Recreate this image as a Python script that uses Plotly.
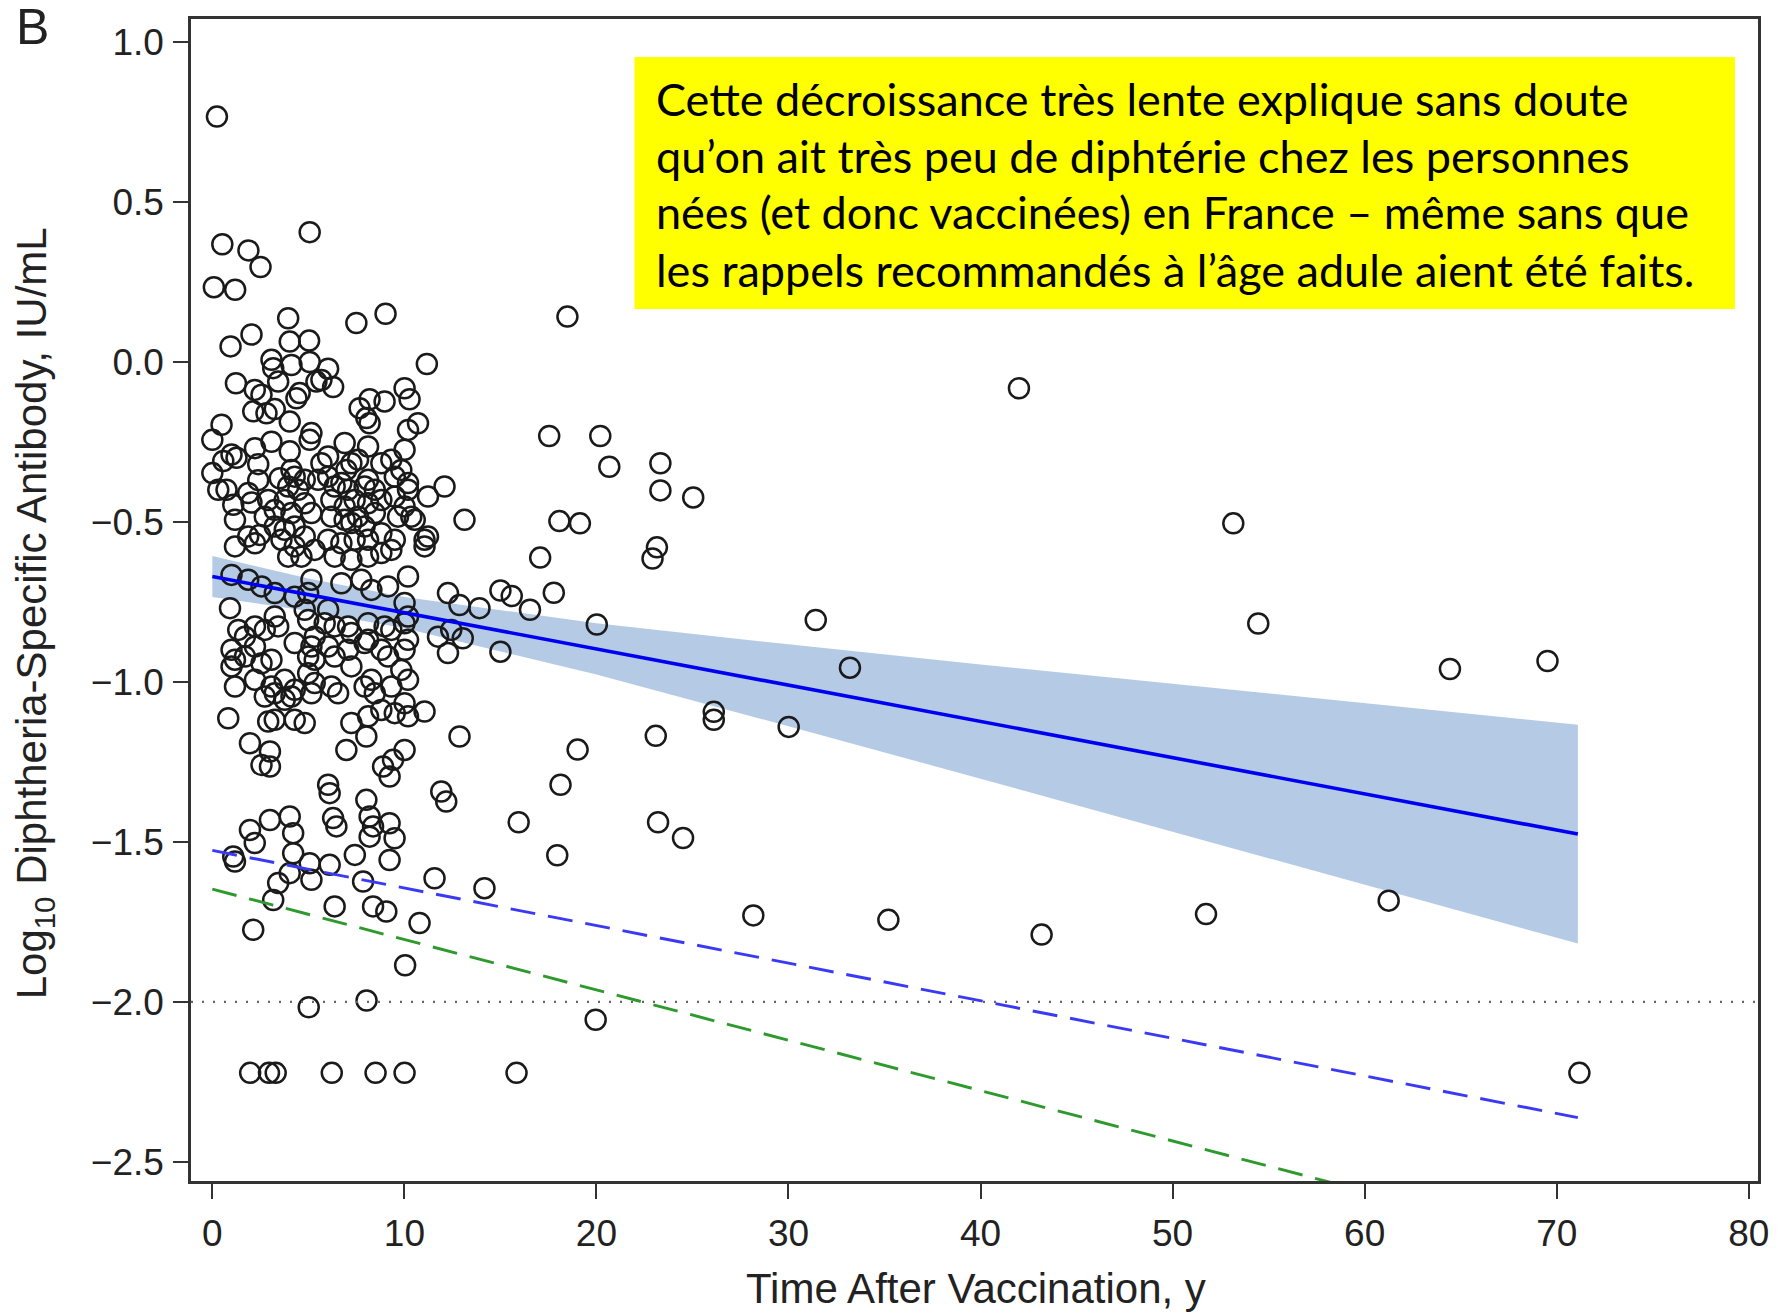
import plotly.graph_objects as go

# ---------------- data ----------------
# points above about -0.18
X_UPPER = [0.24, 5.07, 0.52, 1.88, 2.51, 0.08, 1.19, 3.95, 7.50, 9.02, 2.04, 0.95, 4.03, 5.04, 11.17, 3.08,
           4.12, 5.07, 6.03, 3.17, 6.29, 1.23, 2.21, 2.56, 3.43, 4.55, 4.38, 5.42, 5.68, 10.01, 10.27, 8.19,
           7.67, 8.02, 8.97, 2.13, 2.82, 3.25]
Y_UPPER = [0.766, 0.405, 0.367, 0.348, 0.296, 0.233, 0.225, 0.136, 0.121, 0.150, 0.085, 0.048, 0.063, 0.066,
           -0.007, 0.006, -0.010, -0.001, -0.022, -0.020, -0.079, -0.067, -0.088, -0.103, -0.062, -0.098,
           -0.114, -0.062, -0.057, -0.083, -0.117, -0.117, -0.145, -0.176, -0.124, -0.155, -0.161, -0.148]

# dense cluster, -0.18 to -0.62
X_MID_A = [0.48, 0.0, 1.0, 1.26, 0.57, 0.0, 0.31, 0.74, 1.09, 1.18, 1.18, 2.22, 2.48, 2.22, 3.08, 2.39,
           4.03, 4.03, 5.16, 5.07, 4.12, 3.51, 4.29, 4.81, 4.47, 3.95, 2.91, 3.25, 3.77, 4.12, 4.81, 5.16,
           4.29, 3.77, 3.25, 2.73, 3.60, 4.29, 4.81, 3.95, 4.64, 5.33, 5.68, 6.03, 5.51, 6.03, 6.37, 6.89,
           7.24, 6.98, 7.59, 8.11, 6.72, 7.07, 7.93, 8.11, 8.46, 6.20, 6.89, 7.41, 8.11, 8.80, 6.20, 6.89,
           7.24, 7.59, 7.93, 8.46, 6.03, 6.72, 7.41, 8.11, 8.80, 9.50, 6.37, 7.24, 8.11, 8.80, 9.32, 8.80,
           9.32, 9.50, 9.84, 10.01, 10.19, 10.71, 9.50, 10.19, 10.01, 10.19, 9.67, 10.36, 10.54, 11.23,
           12.09, 11.05, 11.05, 11.23, 1.87, 8.19, 13.13, 2.39, 1.87, 2.04]
Y_MID_A = [-0.197, -0.244, -0.290, -0.300, -0.310, -0.348, -0.400, -0.400, -0.447, -0.494, -0.577, -0.567,
           -0.541, -0.270, -0.250, -0.320, -0.187, -0.280, -0.223, -0.244, -0.338, -0.364, -0.359, -0.369,
           -0.400, -0.390, -0.432, -0.463, -0.432, -0.473, -0.442, -0.473, -0.515, -0.525, -0.515, -0.484,
           -0.556, -0.577, -0.546, -0.609, -0.609, -0.588, -0.317, -0.296, -0.369, -0.359, -0.390, -0.254,
           -0.317, -0.338, -0.306, -0.265, -0.379, -0.400, -0.390, -0.369, -0.400, -0.432, -0.452, -0.432,
           -0.442, -0.432, -0.484, -0.494, -0.504, -0.484, -0.515, -0.473, -0.556, -0.567, -0.556, -0.556,
           -0.536, -0.556, -0.609, -0.619, -0.609, -0.598, -0.588, -0.317, -0.306, -0.359, -0.338, -0.275,
           -0.213, -0.192, -0.421, -0.400, -0.452, -0.379, -0.484, -0.484, -0.494, -0.421, -0.390, -0.556,
           -0.577, -0.546, -0.546, -0.192, -0.494, -0.370, -0.410, -0.440]

# dense cluster, -0.62 to -1.15
X_MID_B = [1.0, 1.87, 2.56, 3.25, 4.29, 5.16, 4.99, 6.72, 7.76, 8.28, 9.15, 10.19, 10.01, 12.27, 12.44,
           12.27, 11.75, 0.92, 3.25, 3.43, 2.73, 1.35, 1.70, 2.22, 4.81, 4.99, 6.03, 5.85, 6.37, 5.33, 7.07,
           7.24, 8.11, 8.11, 8.97, 9.32, 10.01, 10.19, 4.29, 5.16, 4.99, 5.33, 1.0, 1.18, 1.0, 1.70, 2.22,
           2.56, 3.08, 6.03, 6.37, 7.07, 7.24, 7.93, 8.80, 9.15, 10.01, 10.19, 1.18, 2.22, 3.08, 3.77, 4.29,
           4.99, 5.33, 5.16, 6.20, 6.55, 7.93, 8.28, 8.46, 9.32, 9.84, 10.19, 10.01, 2.73, 3.25, 3.77, 4.12,
           0.83, 2.91, 3.25, 4.29, 4.81, 7.24, 8.11, 8.80, 9.50, 10.19, 11.05, 12.87, 13.91, 13.04]
Y_MID_B = [-0.666, -0.681, -0.702, -0.723, -0.734, -0.681, -0.723, -0.692, -0.681, -0.713, -0.702, -0.671,
           -0.754, -0.723, -0.838, -0.910, -0.859, -0.770, -0.796, -0.827, -0.838, -0.838, -0.859, -0.827,
           -0.775, -0.807, -0.775, -0.817, -0.827, -0.859, -0.827, -0.848, -0.817, -0.869, -0.827, -0.838,
           -0.817, -0.796, -0.879, -0.890, -0.921, -0.931, -0.900, -0.931, -0.952, -0.921, -0.890, -0.942,
           -0.931, -0.890, -0.921, -0.900, -0.952, -0.879, -0.900, -0.921, -0.900, -0.869, -1.015, -0.994,
           -1.015, -0.994, -1.025, -0.973, -1.004, -1.036, -1.015, -1.036, -1.015, -0.994, -1.036, -1.015,
           -0.963, -0.994, -1.067, -1.046, -1.036, -1.056, -1.046, -1.114, -1.124, -1.119, -1.119, -1.129,
           -1.129, -1.108, -1.088, -1.098, -1.108, -1.093, -0.760, -0.770, -0.864]

# lower part of the cluster and the floor values
X_LOWER = [1.96, 3.00, 2.56, 3.00, 6.98, 8.02, 10.01, 9.41, 8.89, 9.23, 12.87, 6.03, 6.11, 11.92, 12.18,
           6.29, 6.46, 8.02, 8.19, 8.37, 8.19, 9.23, 9.49, 1.96, 3.00, 4.03, 4.21, 2.21, 4.21, 1.09, 1.18,
           5.07, 6.11, 7.42, 9.23, 4.03, 3.43, 5.16, 7.85, 11.57, 14.17, 3.17, 6.37, 8.37, 9.06, 10.79,
           2.13, 10.04, 5.02, 8.03, 19.96, 1.97, 2.95, 3.30, 6.22, 8.50, 10.01, 15.84, 71.18]
Y_LOWER = [-1.192, -1.218, -1.260, -1.265, -1.213, -1.171, -1.213, -1.244, -1.265, -1.296, -1.171, -1.322,
           -1.348, -1.343, -1.374, -1.426, -1.452, -1.369, -1.421, -1.452, -1.484, -1.442, -1.489, -1.463,
           -1.432, -1.421, -1.473, -1.504, -1.536, -1.546, -1.562, -1.567, -1.572, -1.541, -1.557, -1.598,
           -1.629, -1.619, -1.624, -1.614, -1.645, -1.682, -1.702, -1.702, -1.718, -1.754, -1.775, -1.886,
           -2.017, -1.996, -2.056, -2.222, -2.222, -2.222, -2.222, -2.222, -2.222, -2.222, -2.222]

# sparse points after ~15 years
X_OUTER = [18.49, 17.54, 20.20, 20.67, 23.33, 23.33, 25.04, 18.07, 19.14, 17.07, 17.78, 15.00, 15.59, 16.54,
           15.00, 20.02, 23.15, 22.92, 26.11, 26.11, 23.09, 19.02, 18.13, 15.95, 23.21, 24.51, 17.96, 28.17,
           35.20, 43.18, 51.74, 61.25, 42.00, 53.16, 54.46, 31.42, 33.20, 30.01, 64.44, 69.52]
Y_OUTER = [0.141, -0.232, -0.232, -0.328, -0.317, -0.402, -0.424, -0.498, -0.505, -0.612, -0.722, -0.715,
           -0.732, -0.775, -0.906, -0.821, -0.580, -0.615, -1.094, -1.119, -1.169, -1.212, -1.322, -1.439,
           -1.439, -1.488, -1.542, -1.730, -1.744, -1.790, -1.726, -1.684, -0.083, -0.505, -0.818, -0.807,
           -0.956, -1.141, -0.960, -0.935]

FIT_X = [0.0, 71.1]
FIT_Y = [-0.671, -1.476]
BAND_X = [0, 5, 10, 20, 30, 40, 50, 60, 71.1]
BAND_UPPER = [-0.607, -0.677, -0.735, -0.817, -0.883, -0.946, -1.006, -1.067, -1.134]
BAND_LOWER = [-0.735, -0.779, -0.833, -0.977, -1.139, -1.303, -1.468, -1.634, -1.818]
BLUE_DASH_Y = [-1.527, -2.362]
GREEN_DASH_Y = [-1.648, -2.767]
THRESHOLD = -2.0

X_TICKS = [0, 10, 20, 30, 40, 50, 60, 70, 80]
Y_TICKS = [-2.5, -2.0, -1.5, -1.0, -0.5, 0.0, 0.5, 1.0]

NOTE_LINES = [
    "Cette décroissance très lente explique sans doute",
    "qu’on ait très peu de diphtérie chez les personnes",
    "nées (et donc vaccinées) en France – même sans que",
    "les rappels recommandés à l’âge adule aient été faits.",
]
X_TITLE = "Time After Vaccination, y"
Y_TITLE = "Log<sub>10</sub> Diphtheria-Specific Antibody, IU/mL"
PANEL = "B"

# ---------------- figure ----------------
AX_FONT = "Liberation Sans, Arial, sans-serif"
FRAME = "#333333"
TXT = "#222222"

xs = X_UPPER + X_MID_A + X_MID_B + X_LOWER + X_OUTER
ys = Y_UPPER + Y_MID_A + Y_MID_B + Y_LOWER + Y_OUTER

fig = go.Figure()

fig.add_trace(go.Scatter(
    x=BAND_X + BAND_X[::-1], y=BAND_UPPER + BAND_LOWER[::-1],
    fill="toself", fillcolor="#B5CBE5", line=dict(width=0), mode="lines",
    hoverinfo="skip"))

fig.add_trace(go.Scatter(
    x=xs, y=ys, mode="markers",
    marker=dict(symbol="circle-open", size=20, color="#1a1a1a", line=dict(width=2.5, color="#1a1a1a"))))

fig.add_trace(go.Scatter(x=FIT_X, y=FIT_Y, mode="lines", line=dict(color="#0000F0", width=3.6)))
fig.add_trace(go.Scatter(x=FIT_X, y=BLUE_DASH_Y, mode="lines",
                         line=dict(color="#3a3af5", width=2.9, dash="25px,13px")))
fig.add_trace(go.Scatter(x=FIT_X, y=GREEN_DASH_Y, mode="lines",
                         line=dict(color="#2e9a2e", width=2.9, dash="25px,13px")))

fig.add_shape(type="line", xref="paper", x0=0, x1=1, yref="y", y0=THRESHOLD, y1=THRESHOLD,
              line=dict(color="#666666", width=2.2, dash="2px,9px"))

# yellow note box
fig.add_shape(type="rect", xref="paper", yref="paper", x0=0.283, x1=0.9853, y0=0.7504, y1=0.9673,
              fillcolor="#FFFF00", line=dict(width=0), layer="above")
note_y = [0.9312, 0.8821, 0.8339, 0.7840]
for txt, yy in zip(NOTE_LINES, note_y):
    fig.add_annotation(text=txt, xref="paper", yref="paper", x=0.2957, y=yy,
                       xanchor="left", yanchor="middle", showarrow=False,
                       font=dict(family="Lato, sans-serif", size=45, color="#000000"))

fig.add_annotation(text=X_TITLE, xref="paper", yref="paper", x=0.501, y=-0.0929,
                   xanchor="center", yanchor="middle", showarrow=False,
                   font=dict(family=AX_FONT, size=42, color=TXT))
fig.add_annotation(text=Y_TITLE, xref="paper", yref="paper", x=-0.1, y=0.4888, textangle=-90,
                   xanchor="center", yanchor="middle", showarrow=False,
                   font=dict(family=AX_FONT, size=42, color=TXT))
fig.add_annotation(text=PANEL, xref="paper", yref="paper", x=-0.101, y=0.993,
                   xanchor="center", yanchor="middle", showarrow=False,
                   font=dict(family=AX_FONT, size=50, color=TXT))

fig.update_xaxes(range=[-1.11, 80.48], tickvals=X_TICKS, showgrid=False, zeroline=False,
                 showline=True, mirror=True, linecolor=FRAME, linewidth=2.5,
                 ticks="outside", ticklen=15, tickwidth=2, tickcolor=FRAME,
                 ticklabelstandoff=3,
                 tickfont=dict(family=AX_FONT, size=37, color=TXT))
fig.update_yaxes(range=[-2.56, 1.071], tickvals=Y_TICKS, tickformat=".1f", showgrid=False, zeroline=False,
                 showline=True, mirror=True, linecolor=FRAME, linewidth=2.5,
                 ticks="outside", ticklen=15, tickwidth=2, tickcolor=FRAME,
                 ticklabelstandoff=2,
                 tickfont=dict(family=AX_FONT, size=37, color=TXT))

fig.update_layout(width=1781, height=1313, margin=dict(l=191, r=21, t=19, b=132),
                  paper_bgcolor="white", plot_bgcolor="white", showlegend=False)

fig.write_html("out.html", config={"displayModeBar": False},
               post_script="document.body.style.margin='0';")
